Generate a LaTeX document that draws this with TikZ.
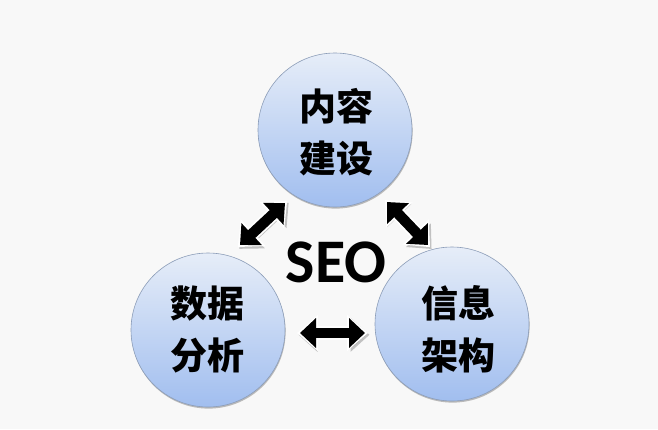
\documentclass[tikz,border=0pt]{standalone}
\usepackage{fontspec}
\setmainfont{Carlito}
\newfontfamily\cjk{Noto Sans CJK SC}
\usetikzlibrary{arrows.meta,shadows,calc}
\definecolor{bg}{HTML}{F8F8F8}
\definecolor{ctop}{HTML}{E6EDF8}
\definecolor{cbot}{HTML}{A1BEEF}
\definecolor{bord}{HTML}{8C9DB8}
\begin{document}
\begin{tikzpicture}[x=1pt,y=-1pt,
  bubble/.style={circle, minimum size=154pt, inner sep=0pt, draw=bord, line width=0.6pt,
    top color=ctop, bottom color=cbot,
    drop shadow={shadow xshift=0.6pt, shadow yshift=-1.6pt, opacity=0.25, fill=black}},
  cjklabel/.style={font=\cjk\bfseries\fontsize{37}{52}\selectfont, align=center, text=black, inner sep=0pt},
  seolabel/.style={font=\bfseries\fontsize{62}{62}\selectfont, text=black, inner sep=0pt},
  dblarrow/.style={line width=10.5pt, black,
    {Triangle[length=16pt,width=29pt]}-{Triangle[length=16pt,width=29pt]}},
  dblshadow/.style={line width=11pt, black, opacity=0.22,
    {Triangle[length=19pt,width=33pt]}-{Triangle[length=19pt,width=33pt]}},
  dbloutline/.style={line width=14pt, white,
    {Triangle[length=21pt,width=35pt]}-{Triangle[length=21pt,width=35pt]}}
]
\fill[bg] (0,0) rectangle (658,429);
\useasboundingbox (0,0) rectangle (658,429);

% circles
\node[bubble] (top) at (335,130) {};
\node[bubble] (left) at (208,330) {};
\node[bubble] (right) at (452,324) {};

% labels
\node[cjklabel] (ttop) at (336,132) {内容\\建设};
\node[cjklabel] (tleft) at (207,329) {数据\\分析};
\node[cjklabel] (tright) at (458,329) {信息\\架构};
\node[seolabel] (seo) at (336,262) {SEO};

% arrow end points
\coordinate (a1) at (240,245);
\coordinate (a2) at (285,203);
\coordinate (b1) at (387,202);
\coordinate (b2) at (428,245);
\coordinate (c1) at (300,333);
\coordinate (c2) at (365,333);

\foreach \p/\q in {a1/a2, b1/b2, c1/c2} {
  \draw[dblshadow] ($(\p)!-3pt!(\q)+(1.5,1.8)$) -- ($(\q)!-3pt!(\p)+(1.5,1.8)$);
  \draw[dbloutline] ($(\p)!-3pt!(\q)$) -- ($(\q)!-3pt!(\p)$);
  \draw[dblarrow] (\p) -- (\q);
}
\end{tikzpicture}
\end{document}
